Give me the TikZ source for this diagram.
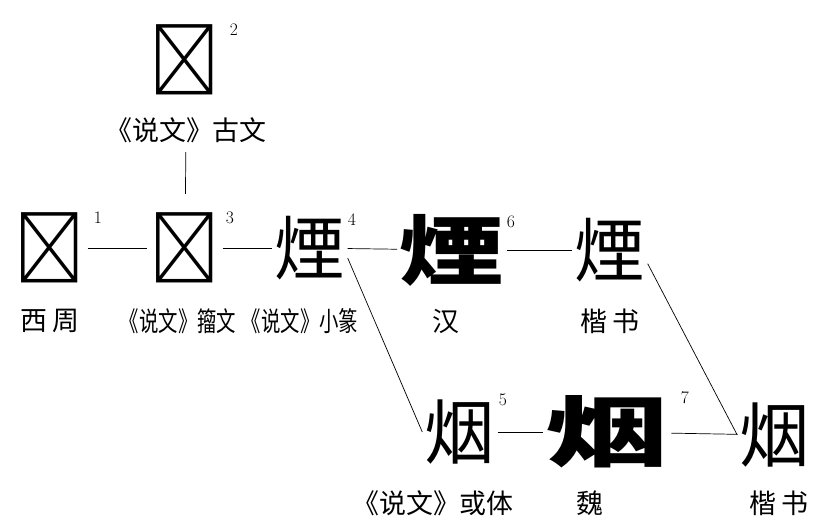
\documentclass[tikz,border=0pt]{standalone}
\usepackage{fontspec}
\usepackage{graphicx}
\newfontfamily\cjk{Noto Sans CJK SC}

\begin{document}
\begin{tikzpicture}[x=0.03cm, y=-0.03cm, every node/.style={inner sep=0pt},
    glyph/.style={font=\cjk\fontsize{60}{60}\selectfont, inner sep=2pt},
    heavy/.style={glyph, font=\cjk\bfseries\fontsize{66}{66}\selectfont},
    lbl/.style={font=\cjk\fontsize{23}{23}\selectfont},
    num/.style={font=\fontsize{15}{15}\selectfont},
    link/.style={line width=0.6pt}]
  \useasboundingbox (0,0) rectangle (831,526);

  % Top glyph (Shuowen guwen)
  \node[glyph] (g2) at (185,60) {𡨄};
  \node[num] (n2) at (234,30) {2};
  \node[lbl] (l2) at (186,130) {《说文》古文};

  % First row
  \node[glyph] (g1) at (50,248) {𪹟};
  \node[num] (n1) at (98,218) {1};
  \node[lbl] (l1) at (50,321) {西\,周};
  \node[glyph] (g3) at (185,248) {𪹟};
  \node[num] (n3) at (230,218) {3};
  \node[lbl] (l3) at (178,321) {\scalebox{0.72}[1]{《说文》籀文}};
  \node[glyph] (g4) at (310,248) {煙};
  \node[num] (n4) at (352,220) {4};
  \node[lbl] (l4) at (300,321) {\scalebox{0.72}[1]{《说文》小篆}};
  \node[heavy] (g6) at (452,250) {\scalebox{1.35}[1]{煙}};
  \node[num] (n6) at (511,222) {6};
  \node[lbl] (l6) at (446,321) {汉};
  \node[glyph] (g6k) at (610,250) {煙};
  \node[lbl] (l6k) at (610,321) {楷\,书};

  % Second row
  \node[glyph] (g5) at (460,432) {烟};
  \node[num] (n5) at (503,400) {5};
  \node[lbl] (l5) at (433,503) {《说文》或体};
  \node[heavy] (g7) at (607,432) {\scalebox{1.6}[1]{烟}};
  \node[num] (n7) at (685,398) {7};
  \node[lbl] (l7) at (590,503) {魏};
  \node[glyph] (g7k) at (775,435) {烟};
  \node[lbl] (l7k) at (779,503) {楷\,书};

  % Connectors
  \draw[link, shorten <=8pt, shorten >=14pt] (l2) -- (g3);
  \draw[link] (g1) -- (g3);
  \draw[link] (g3) -- (g4);
  \draw[link] (g4) -- (g6);
  \draw[link] (g6) -- (g6k);
  \draw[link] (g5) -- (g7);
  \draw[link] (g7) -- (g7k);
  \draw[link] (g4.-15) -- (g5.west);
  \draw[link] (g6k.-20) -- (g7k.west);
\end{tikzpicture}
\end{document}
